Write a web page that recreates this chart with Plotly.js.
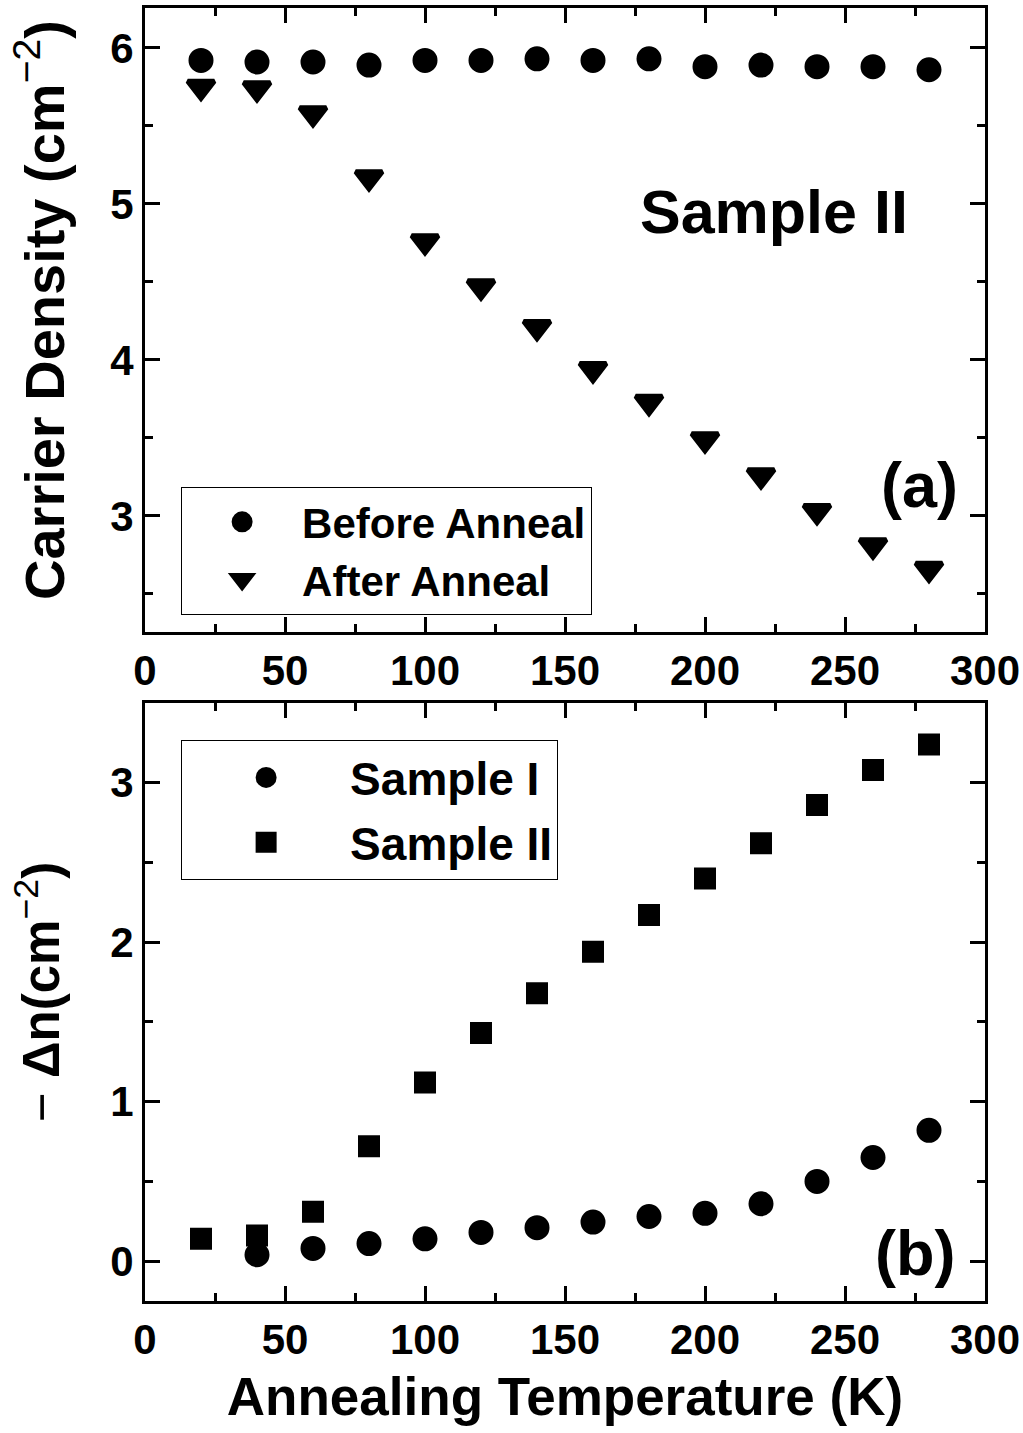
<!DOCTYPE html>
<html>
<head>
<meta charset="utf-8">
<script src="https://cdn.plot.ly/plotly-3.0.1.min.js"></script>
<style>html,body{margin:0;padding:0;background:#fff;}#chart{width:1023px;height:1433px;}</style>
</head>
<body>
<div id="chart"></div>
<script>
// Annealing temperatures (K)
const temps = [20, 40, 60, 80, 100, 120, 140, 160, 180, 200, 220, 240, 260, 280];
// Panel (a): Sample II carrier density
const beforeAnneal = [5.92, 5.91, 5.91, 5.89, 5.92, 5.92, 5.93, 5.92, 5.93, 5.88, 5.89, 5.88, 5.88, 5.86];
const afterAnneal  = [5.75, 5.74, 5.58, 5.17, 4.76, 4.47, 4.21, 3.94, 3.73, 3.49, 3.26, 3.03, 2.81, 2.66];
// Panel (b): -delta n
const tempsI   = [40, 60, 80, 100, 120, 140, 160, 180, 200, 220, 240, 260, 280];
const sampleI  = [0.04, 0.08, 0.11, 0.14, 0.18, 0.21, 0.245, 0.28, 0.30, 0.36, 0.50, 0.65, 0.82];
const sampleII = [0.14, 0.16, 0.31, 0.72, 1.12, 1.43, 1.68, 1.94, 2.17, 2.40, 2.62, 2.86, 3.08, 3.24];
const xTicks = [0, 50, 100, 150, 200, 250, 300];

const FONT = 'Liberation Sans, Arial, Helvetica, sans-serif';
const mk = (symbol, size) => ({symbol: symbol, size: size, color: '#000', line: {color: '#000', width: 5}});

const traces = [
  {x: temps, y: beforeAnneal, name: 'Before Anneal', mode: 'markers', type: 'scatter',
   xaxis: 'x2', yaxis: 'y2', marker: mk('circle', 20), legend: 'legend', legendgroup: 'a1'},
  {x: temps, y: afterAnneal, name: 'After Anneal', mode: 'markers', type: 'scatter',
   xaxis: 'x2', yaxis: 'y2', marker: mk('triangle-down', 23), legend: 'legend', legendgroup: 'a2'},
  {x: tempsI, y: sampleI, name: 'Sample I', mode: 'markers', type: 'scatter',
   xaxis: 'x', yaxis: 'y', marker: mk('circle', 20), legend: 'legend2', legendgroup: 'b1'},
  {x: temps, y: sampleII, name: 'Sample II', mode: 'markers', type: 'scatter',
   xaxis: 'x', yaxis: 'y', marker: mk('square', 17), legend: 'legend2', legendgroup: 'b2'}
];

const axisCommon = {
  showgrid: false, zeroline: false, showline: true, linecolor: '#000', linewidth: 3,
  mirror: 'ticks', ticks: 'inside', ticklen: 15, tickwidth: 3, tickcolor: '#000',
  tickfont: {family: FONT, size: 42, color: '#000', weight: 'bold'}
};
const xCommon = Object.assign({}, axisCommon, {
  range: [0, 300], tickmode: 'array', tickvals: xTicks, ticktext: xTicks.map(String),
  ticklabelstandoff: 0,
  minor: {tick0: 0, dtick: 25, ticks: 'inside', ticklen: 8, tickwidth: 3, tickcolor: '#000'}
});

const legendCommon = {
  bgcolor: 'rgba(255,255,255,0)', bordercolor: '#000', borderwidth: 1,
  xanchor: 'left', yanchor: 'top', xref: 'paper', yref: 'paper'
};

const layout = {
  width: 1023, height: 1433,
  margin: {l: 145, r: 38, t: 8, b: 132},
  paper_bgcolor: '#fff', plot_bgcolor: '#fff',
  font: {family: FONT, color: '#000'},
  showlegend: true,
  xaxis: Object.assign({}, xCommon, {
    domain: [0, 1], anchor: 'y',
    title: {text: 'Annealing Temperature (K)', font: {family: FONT, size: 53, color: '#000', weight: 'bold'}, standoff: 16}
  }),
  yaxis: Object.assign({}, axisCommon, {
    domain: [0, 0.4625], anchor: 'x', range: [-0.25, 3.5],
    tickmode: 'array', tickvals: [0, 1, 2, 3], ticktext: ['0', '1', '2', '3'],
    minor: {tickvals: [-0.5, 0.5, 1.5, 2.5, 3.5], ticks: 'inside', ticklen: 8, tickwidth: 3, tickcolor: '#000'}
  }),
  xaxis2: Object.assign({}, xCommon, {domain: [0, 1], anchor: 'y2'}),
  yaxis2: Object.assign({}, axisCommon, {
    domain: [0.5174, 1], anchor: 'x2', range: [2.256, 6.256],
    tickmode: 'array', tickvals: [3, 4, 5, 6], ticktext: ['3', '4', '5', '6'],
    minor: {tickvals: [2.5, 3.5, 4.5, 5.5], ticks: 'inside', ticklen: 8, tickwidth: 3, tickcolor: '#000'}
  }),
  legend: Object.assign({}, legendCommon, {
    x: 0.043, y: (1301 - 487) / 1293, itemwidth: 110, tracegroupgap: 0,
    font: {family: FONT, size: 42, color: '#000', weight: 'bold'}}),
  legend2: Object.assign({}, legendCommon, {
    x: 0.043, y: (1301 - 740) / 1293, itemwidth: 158, tracegroupgap: 2,
    font: {family: FONT, size: 46, color: '#000', weight: 'bold'}}),
  annotations: [
    // y-axis titles (drawn as rotated annotations to match the reference placement)
    {xref: 'paper', yref: 'paper', x: (40 - 145) / 840, y: (1301 - 310) / 1293, xanchor: 'center', yanchor: 'middle',
     textangle: -90, showarrow: false,
     text: '<b>Carrier Density (cm</b><sup>\u22122</sup><b>)</b>',
     font: {family: FONT, size: 56, color: '#000', weight: 'normal'}},
    {xref: 'paper', yref: 'paper', x: (38 - 145) / 840, y: (1301 - 992) / 1293, xanchor: 'center', yanchor: 'middle',
     textangle: -90, showarrow: false,
     text: '\u2212 <b>\u0394n(cm</b><sup>\u22122</sup><b>)</b>',
     font: {family: FONT, size: 51, color: '#000', weight: 'normal'}},
    {xref: 'x2', yref: 'y2', x: 224.5, y: 4.95, text: 'Sample II', showarrow: false,
     font: {family: FONT, size: 61, color: '#000', weight: 'bold'}},
    {xref: 'x2', yref: 'y2', x: 276.5, y: 3.2, text: '(a)', showarrow: false,
     font: {family: FONT, size: 63, color: '#000', weight: 'bold'}},
    {xref: 'x', yref: 'y', x: 275, y: 0.05, text: '(b)', showarrow: false,
     font: {family: FONT, size: 63, color: '#000', weight: 'bold'}}
  ]
};

Plotly.newPlot('chart', traces, layout, {staticPlot: true, displayModeBar: false});
</script>
</body>
</html>
